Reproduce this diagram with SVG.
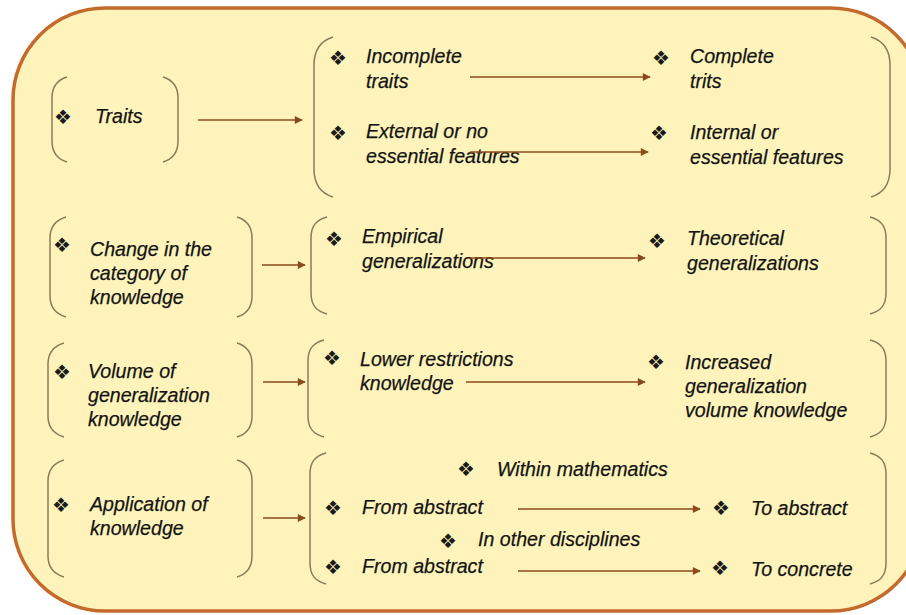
<svg xmlns="http://www.w3.org/2000/svg" width="906" height="615" viewBox="0 0 906 615">
<defs>
<marker id="ah" viewBox="0 0 10 10" refX="9" refY="5" markerWidth="9" markerHeight="8" markerUnits="userSpaceOnUse" orient="auto">
<path d="M0,0 L10,5 L0,10 z" fill="#8B4A1C"/>
</marker>
<style>
.t{font-family:"Liberation Sans",Arial,sans-serif;font-style:italic;font-size:19.6px;fill:#141414;stroke:#141414;stroke-width:0.25}
.b{font-family:"DejaVu Sans",sans-serif;font-size:20px;fill:#1a1a1a;text-anchor:middle}
.br{fill:none;stroke:#8E7A58;stroke-width:1.5}
.ar{fill:none;stroke:#8B4A1C;stroke-width:1.6;marker-end:url(#ah)}
</style>
</defs>
<rect x="0" y="0" width="906" height="615" fill="#ffffff"/>
<rect id="frame" x="13" y="8" width="910" height="603" rx="92" ry="92" fill="#FEF4BB" stroke="#C46A2C" stroke-width="3.5"/>

<g id="traits">
<path class="br" d="M67,77 C57,80 52,86 52,98 L52,141 C52,153 57,159 67,162"/>
<path class="br" d="M163,77 C173,80 178,86 178,98 L178,141 C178,153 173,159 163,162"/>
<text class="b" x="63" y="123.5">❖</text>
<text class="t" x="95" y="123">Traits</text>
</g>

<g id="traits-detail">
<path class="br" d="M333,37 C320,41 314,50 314,65 L314,169 C314,184 320,193 333,197"/>
<path class="br" d="M871,37 C884,41 890,50 890,65 L890,169 C890,184 884,193 871,197"/>
<text class="b" x="338" y="64.5">❖</text>
<text class="t" x="366" y="63">Incomplete</text>
<text class="t" x="366" y="88">traits</text>
<text class="b" x="661" y="64.5">❖</text>
<text class="t" x="690" y="63">Complete</text>
<text class="t" x="690" y="88">trits</text>
<text class="b" x="338" y="139.5">❖</text>
<text class="t" x="366" y="138">External or no</text>
<text class="t" x="366" y="163">essential features</text>
<text class="b" x="659" y="139.5">❖</text>
<text class="t" x="690" y="139">Internal or</text>
<text class="t" x="690" y="164">essential features</text>
</g>

<g id="change">
<path class="br" d="M66,217 C56,220 50,226 50,238 L50,296 C50,308 56,314 66,317"/>
<path class="br" d="M237,217 C247,220 252,226 252,238 L252,296 C252,308 247,314 237,317"/>
<text class="b" x="62" y="251.5">❖</text>
<text class="t" x="90" y="256">Change in the</text>
<text class="t" x="90" y="280">category of</text>
<text class="t" x="90" y="304">knowledge</text>
</g>

<g id="change-detail">
<path class="br" d="M327,217 C316,220 311,226 311,238 L311,293 C311,305 316,311 327,314"/>
<path class="br" d="M870,217 C881,220 886,226 886,238 L886,293 C886,305 881,311 870,314"/>
<text class="b" x="334" y="245.5">❖</text>
<text class="t" x="362" y="243">Empirical</text>
<text class="t" x="362" y="268">generalizations</text>
<text class="b" x="657" y="247.5">❖</text>
<text class="t" x="687" y="245">Theoretical</text>
<text class="t" x="687" y="270">generalizations</text>
</g>

<g id="volume">
<path class="br" d="M64,343 C54,346 48,352 48,364 L48,416 C48,428 54,434 64,437"/>
<path class="br" d="M237,343 C247,346 252,352 252,364 L252,416 C252,428 247,434 237,437"/>
<text class="b" x="62" y="378.5">❖</text>
<text class="t" x="88" y="378">Volume of</text>
<text class="t" x="88" y="402">generalization</text>
<text class="t" x="88" y="426">knowledge</text>
</g>

<g id="volume-detail">
<path class="br" d="M324,340 C313,343 308,349 308,361 L308,416 C308,428 313,434 324,437"/>
<path class="br" d="M870,340 C881,343 886,349 886,361 L886,416 C886,428 881,434 870,437"/>
<text class="b" x="332" y="364.5">❖</text>
<text class="t" x="360" y="366">Lower restrictions</text>
<text class="t" x="360" y="390">knowledge</text>
<text class="b" x="656" y="368.5">❖</text>
<text class="t" x="685" y="369">Increased</text>
<text class="t" x="685" y="393">generalization</text>
<text class="t" x="685" y="417">volume knowledge</text>
</g>

<g id="application">
<path class="br" d="M64,460 C54,463 48,469 48,481 L48,556 C48,568 54,574 64,577"/>
<path class="br" d="M237,460 C247,463 252,469 252,481 L252,556 C252,568 247,574 237,577"/>
<text class="b" x="61" y="511.5">❖</text>
<text class="t" x="90" y="511">Application of</text>
<text class="t" x="90" y="535">knowledge</text>
</g>

<g id="application-detail">
<path class="br" d="M326,453 C315,456 310,462 310,474 L310,563 C310,575 315,581 326,584"/>
<path class="br" d="M870,453 C881,456 886,462 886,474 L886,563 C886,575 881,581 870,584"/>
<text class="b" x="466" y="475.5">❖</text>
<text class="t" x="497" y="476">Within mathematics</text>
<text class="b" x="333" y="514.5">❖</text>
<text class="t" x="362" y="514">From abstract</text>
<text class="b" x="721" y="514.5">❖</text>
<text class="t" x="751" y="515">To abstract</text>
<text class="b" x="448" y="547.5">❖</text>
<text class="t" x="478" y="546">In other disciplines</text>
<text class="b" x="333" y="573.5">❖</text>
<text class="t" x="362" y="573">From abstract</text>
<text class="b" x="720" y="574.5">❖</text>
<text class="t" x="751" y="576">To concrete</text>
</g>

<g id="connectors">
<line class="ar" x1="198" y1="120" x2="302" y2="120"/>
<line class="ar" x1="470" y1="77" x2="650" y2="77"/>
<line class="ar" x1="470" y1="152" x2="648" y2="152"/>
<line class="ar" x1="262" y1="265" x2="305" y2="265"/>
<line class="ar" x1="470" y1="258" x2="645" y2="258"/>
<line class="ar" x1="263" y1="382" x2="305" y2="382"/>
<line class="ar" x1="466" y1="382" x2="645" y2="382"/>
<line class="ar" x1="263" y1="518" x2="305" y2="518"/>
<line class="ar" x1="518" y1="509" x2="700" y2="509"/>
<line class="ar" x1="518" y1="571" x2="700" y2="571"/>
</g>
</svg>
